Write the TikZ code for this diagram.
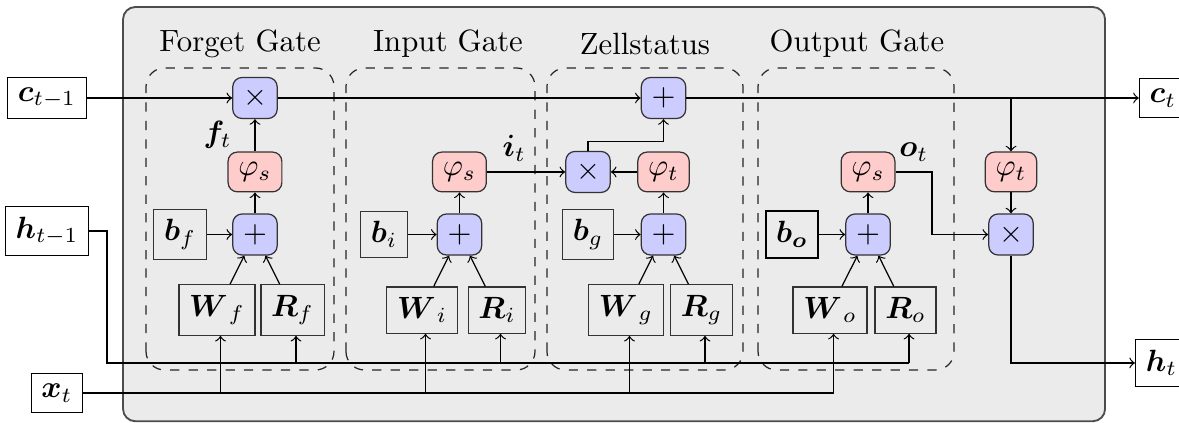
\documentclass[tikz,border=0pt]{standalone}
\usepackage{tikz}
\usepackage{xcolor}
\usepackage{bm}

\begin{document}
\begin{tikzpicture}
	% Define colors
	\definecolor{cellbg}{RGB}{235, 235, 235}
	\definecolor{opblue}{RGB}{204, 204, 255}
	\definecolor{actred}{RGB}{255, 204, 204}

	% Styles
	\tikzstyle{op_box} = [draw=black!80, fill=opblue, rounded corners=3pt]
	\tikzstyle{act_box} = [draw=black!80, fill=actred, rounded corners=3pt]
	\tikzstyle{param_box} = [draw=black!80]
	\tikzstyle{io_box} = [draw=black, fill=white]
	\tikzstyle{gate_frame} = [draw=black!85, dashed, rounded corners=6pt]

	% Column X positions
	\def\colf{2.914}
	\def\coli{5.251}
	\def\colg{7.583}
	\def\colo{9.92}
	\def\colh{11.554}

	% Row Y positions
	\def\rowc{3.714}
	\def\rowact{2.869}
	\def\rowsum{2.154}
	\def\rowmat{1.291}

	\useasboundingbox (0,0) rectangle (13.474,4.834);

	% Cell background
	\draw[draw=black!70, fill=cellbg, rounded corners=4pt, semithick] (1.406,0.02) rectangle (12.629,4.754);

	% Gate frames
	\draw[gate_frame] (1.669,0.606) rectangle (3.817,4.057);
	\draw[gate_frame] (3.954,0.606) rectangle (6.114,4.057);
	\draw[gate_frame] (6.251,0.606) rectangle (8.491,4.057);
	\draw[gate_frame] (8.663,0.606) rectangle (10.903,4.057);

	% Titles
	\node (tforget) at (2.743,4.331) {Forget Gate};
	\node (tinput) at (5.12,4.331) {Input Gate};
	\node (tcell) at (7.371,4.331) {Zellstatus};
	\node (toutput) at (9.794,4.331) {Output Gate};

	% Inputs and outputs
	\node[io_box] (ctm) at (0.537,\rowc) {$\bm{c}_{t-1}$};
	\node[io_box] (htm) at (0.537,2.194) {$\bm{h}_{t-1}$};
	\node[io_box] (xt) at (0.651,0.343) {$\bm{x}_t$};
	\node[io_box] (ct) at (13.291,\rowc) {$\bm{c}_t$};
	\node[io_box] (ht) at (13.274,0.686) {$\bm{h}_t$};

	% Forget gate
	\node[op_box] (mulf) at (\colf,\rowc) {$\times$};
	\node[act_box] (sigf) at (\colf,\rowact) {$\varphi_s$};
	\node[op_box] (sumf) at (\colf,\rowsum) {$+$};
	\node[param_box] (bf) at (2.057,\rowsum) {$\bm{b}_f$};
	\node[param_box] (Wf) at (2.48,\rowmat) {$\bm{W}_{\hspace{2pt}f}$};
	\node[param_box] (Rf) at (3.343,\rowmat) {$\bm{R}_f$};

	% Input gate
	\node[act_box] (sigi) at (\coli,\rowact) {$\varphi_s$};
	\node[op_box] (sumi) at (\coli,\rowsum) {$+$};
	\node[param_box] (bi) at (4.389,\rowsum) {$\bm{b}_i$};
	\node[param_box] (Wi) at (4.823,\rowmat) {$\bm{W}_{\hspace{2pt}i}$};
	\node[param_box] (Ri) at (5.68,\rowmat) {$\bm{R}_i$};

	% Cell state
	\node[op_box] (sumc) at (\colg,\rowc) {$+$};
	\node[op_box] (mulg) at (6.72,\rowact) {$\times$};
	\node[act_box] (tanhg) at (\colg,\rowact) {$\varphi_t$};
	\node[op_box] (sumg) at (\colg,\rowsum) {$+$};
	\node[param_box] (bg) at (6.72,\rowsum) {$\bm{b}_g$};
	\node[param_box] (Wg) at (7.154,\rowmat) {$\bm{W}_{\hspace{2pt}g}$};
	\node[param_box] (Rg) at (8.017,\rowmat) {$\bm{R}_g$};

	% Output gate
	\node[act_box] (sigo) at (\colo,\rowact) {$\varphi_s$};
	\node[op_box] (sumo) at (\colo,\rowsum) {$+$};
	\node[param_box, draw=black, semithick] (bo) at (9.051,\rowsum) {$\bm{b}_{\bm{o}}$};
	\node[param_box] (Wo) at (9.486,\rowmat) {$\bm{W}_{\hspace{2pt}o}$};
	\node[param_box] (Ro) at (10.349,\rowmat) {$\bm{R}_o$};

	% Hidden state output
	\node[act_box] (tanhh) at (\colh,\rowact) {$\varphi_t$};
	\node[op_box] (mulh) at (\colh,\rowsum) {$\times$};

	% Cell state line
	\draw[->] (ctm) -- (mulf);
	\draw[->] (mulf) -- (sumc);
	\draw[->] (sumc) -- (ct);
	\draw[->] (sumc -| tanhh) -- (tanhh);
	\draw[->] (tanhh) -- (mulh);
	\draw[->] (mulh) |- (ht);

	% Gate internals
	\foreach \g in {f,i,g,o} {
		\draw[->] (b\g) -- (sum\g);
		\draw[->] (W\g) -- (sum\g);
		\draw[->] (R\g) -- (sum\g);
	}
	\draw[->] (sumf) -- (sigf);
	\draw[->] (sigf) -- node[left=4pt] {$\bm{f}_t$} (mulf);
	\draw[->] (sumi) -- (sigi);
	\draw[->] (sigi) -- node[above, pos=0.35] {$\bm{i}_t$} (mulg);
	\draw[->] (sumg) -- (tanhg);
	\draw[->] (tanhg) -- (mulg);
	\draw[->] (mulg.north) -- ++(0,0.103) -| (sumc);
	\draw[->] (sumo) -- (sigo);
	\coordinate (oturn) at (10.651,\rowsum);
	\draw[->] (sigo) -| node[above, pos=0.25] {$\bm{o}_t$} (oturn) -- (mulh);

	% Input buses
	\coordinate (hbend) at (1.223,0.686);
	\coordinate (xend) at ([xshift=0.04cm]xt.east -| Wo);
	\draw (htm.east) -| (hbend) -- ([xshift=0.04cm]hbend -| Ro);
	\draw (xt.east) -- (xend);
	\foreach \g in {f,i,g,o} {
		\draw[->] ([xshift=0.04cm]R\g.south |- hbend) -- ([xshift=0.04cm]R\g.south);
		\draw[->] ([xshift=0.04cm]W\g.south |- xt.east) -- ([xshift=0.04cm]W\g.south);
	}

\end{tikzpicture}
\end{document}
